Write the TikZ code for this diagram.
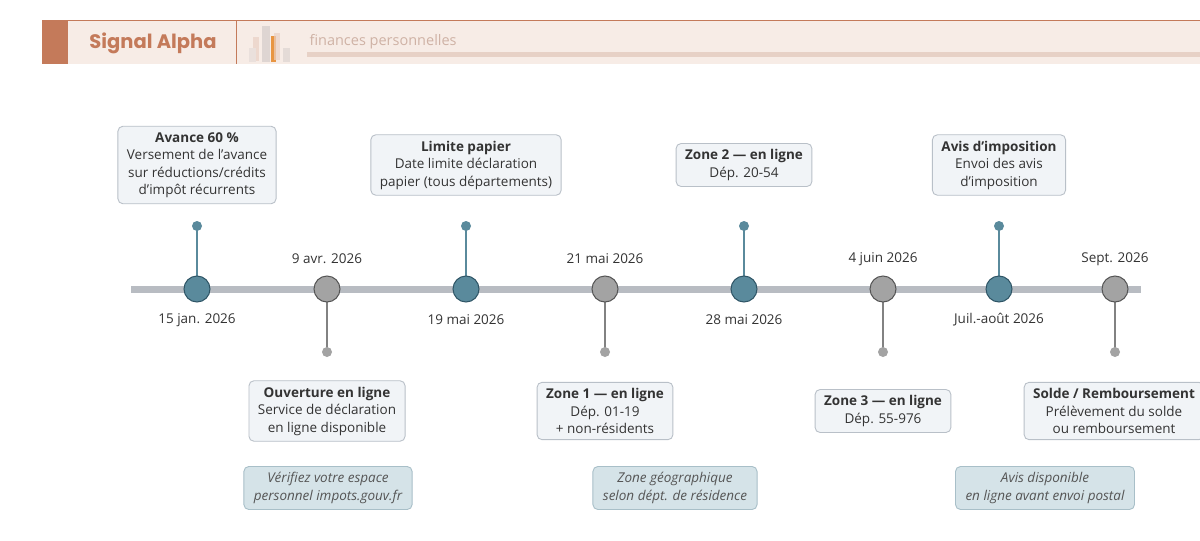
\documentclass[tikz,border=0pt]{standalone}
\usepackage{fontspec}
\setmainfont{Open Sans}[Ligatures=ResetAll]
\newfontfamily\titlefont{Poppins}
\newcommand{\ap}{'}
\definecolor{accent}{HTML}{C47A5A}
\definecolor{band}{HTML}{F7ECE6}
\definecolor{bluem}{HTML}{5A8A9C}
\definecolor{bluedk}{HTML}{2F5566}
\definecolor{graym}{HTML}{A3A3A3}
\definecolor{graydk}{HTML}{555555}
\definecolor{axis}{HTML}{B8BCC2}
\definecolor{cardfill}{HTML}{F1F4F7}
\definecolor{cardline}{HTML}{B9C0C8}
\definecolor{notefill}{HTML}{D5E3E8}
\definecolor{noteline}{HTML}{A8BFC8}
\definecolor{txt}{HTML}{333333}
\tikzset{
 card/.style={draw=cardline,fill=cardfill,rounded corners=5pt,line width=0.9pt,align=center,inner xsep=9pt,inner ysep=6pt,font=\fontsize{13.5}{17.5}\selectfont,text=txt},
 note/.style={draw=noteline,fill=notefill,rounded corners=5pt,line width=0.9pt,align=center,inner xsep=10pt,inner ysep=6pt,font=\fontsize{13.5}{17.5}\selectfont\itshape,text=graydk},
 bmark/.style={circle,fill=bluem,draw=bluedk,line width=1pt,minimum size=26pt,inner sep=0pt},
 gmark/.style={circle,fill=graym,draw=graydk,line width=1pt,minimum size=26pt,inner sep=0pt},
 datel/.style={font=\fontsize{13.5}{15}\selectfont,text=txt},
}
\begin{document}
\begin{tikzpicture}[x=1pt,y=-1pt]
\useasboundingbox (0,0) rectangle (1200,541);
\fill[white] (0,0) rectangle (1200,541);
% header
\fill[band] (42,20) rectangle (1200,64);
\draw[accent,line width=1pt] (42,20.5) -- (1200,20.5);
\fill[accent] (42,20) rectangle (68,64);
\draw[accent,line width=1pt] (236,20) -- (236,64);
\node[font=\titlefont\fontsize{19.5}{21}\selectfont,text=accent] (title) at (153,43) {\textbf{Signal Alpha}};
\node[anchor=west,font=\fontsize{14.5}{16}\selectfont,text=accent!40!band!80!gray] (sub) at (306,42) {finances personnelles};
\fill[accent!20!band!95!gray] (307,52) rectangle (1200,57);
% icon
\fill[accent!35!white,opacity=0.7] (253,37) rectangle (259,61);
\fill[accent!15!white!90!gray] (249,48) rectangle (256,62);
\fill[accent!15!white!80!gray] (262,26) rectangle (270,62);
\fill[orange!60!brown,opacity=0.8] (271,36) rectangle (276,62);
\fill[accent!35!white,opacity=0.7] (274,33) rectangle (280,60);
\fill[accent!15!white!85!gray] (283,48) rectangle (290,62);
% axis
\draw[axis,line width=7pt] (131,289) -- (1141,289);
% stems
\foreach \x in {197,466,744,999}{\draw[bluem,line width=1.3pt] (\x,226) -- (\x,289); \fill[bluem] (\x,226) circle (5);}
\foreach \x in {327,605,883,1115}{\draw[graym!80!black,line width=1.3pt] (\x,289) -- (\x,352); \fill[graym] (\x,352) circle (5);}
\node[bmark] (m1) at (197,289) {};
\node[gmark] (m2) at (327,289) {};
\node[bmark] (m3) at (466,289) {};
\node[gmark] (m4) at (605,289) {};
\node[bmark] (m5) at (744,289) {};
\node[gmark] (m6) at (883,289) {};
\node[bmark] (m7) at (999,289) {};
\node[gmark] (m8) at (1115,289) {};
% dates
\node[datel] (d1) at (197,320) {15 jan. 2026};
\node[datel] (d2) at (327,259) {9 avr. 2026};
\node[datel] (d3) at (466,320) {19 mai 2026};
\node[datel] (d4) at (605,259) {21 mai 2026};
\node[datel] (d5) at (744,320) {28 mai 2026};
\node[datel] (d6) at (883,259) {4 juin 2026};
\node[datel] (d7) at (999,320) {Juil.-août 2026};
\node[datel] (d8) at (1115,259) {Sept. 2026};
% cards
\node[card] (c1) at (197,165) {\textbf{Avance 60 \%}\\Versement de l\ap avance\\sur réductions/crédits\\d\ap impôt récurrents};
\node[card] (c3) at (466,165) {\textbf{Limite papier}\\Date limite déclaration\\papier (tous départements)};
\node[card] (c5) at (744,165) {\textbf{Zone 2 — en ligne}\\Dép. 20-54};
\node[card] (c7) at (999,165) {\textbf{Avis d\ap imposition}\\Envoi des avis\\d\ap imposition};
\node[card] (c2) at (327,411) {\textbf{Ouverture en ligne}\\Service de déclaration\\en ligne disponible};
\node[card] (c4) at (605,411) {\textbf{Zone 1 — en ligne}\\Dép. 01-19\\+ non-résidents};
\node[card] (c6) at (883,411) {\textbf{Zone 3 — en ligne}\\Dép. 55-976};
\node[card] (c8) at (1114,411) {\textbf{Solde / Remboursement}\\Prélèvement du solde\\ou remboursement};
% notes
\node[note] (n1) at (328,488) {Vérifiez votre espace\\personnel impots.gouv.fr};
\node[note] (n2) at (675,488) {Zone géographique\\selon dépt. de résidence};
\node[note] (n3) at (1045,488) {Avis disponible\\en ligne avant envoi postal};
\end{tikzpicture}
\end{document}
